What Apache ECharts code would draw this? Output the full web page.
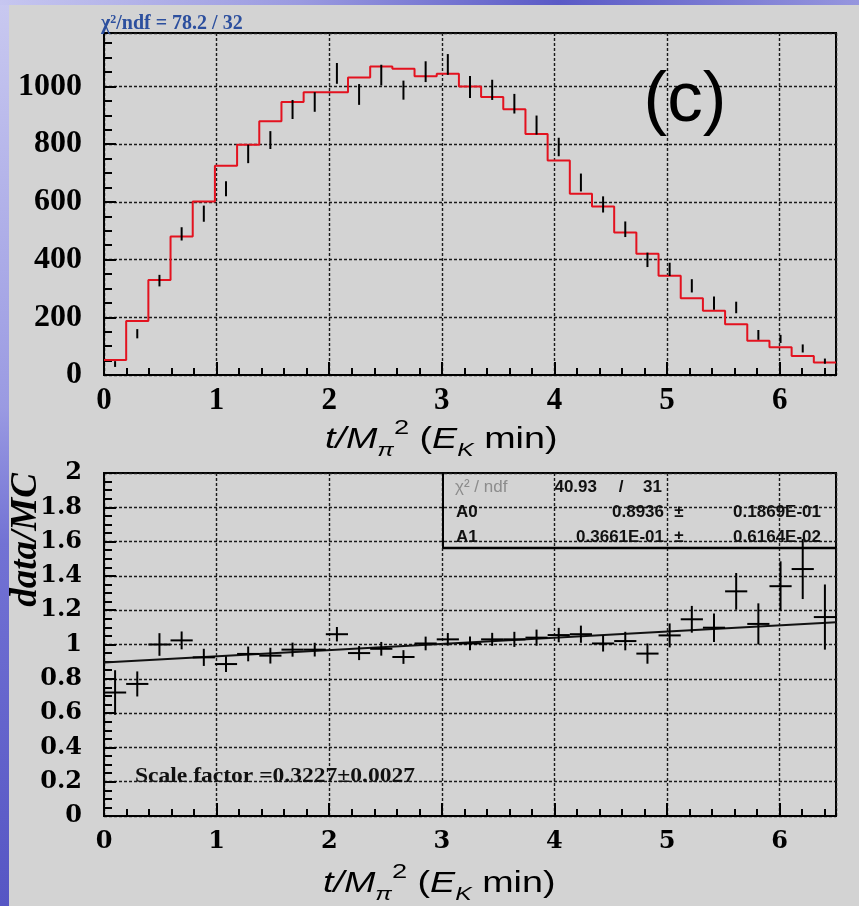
<!DOCTYPE html>
<html><head><meta charset="utf-8">
<script src="https://cdn.jsdelivr.net/npm/echarts@6/dist/echarts.min.js"></script>
<style>html,body{margin:0;padding:0;background:#d3d3d3}#c{width:859px;height:906px}</style>
</head><body><div id="c"></div><script>
// ---- data ----
const xRange = [0, 6.5];
const nBins = 33;
const mcHist = [52,187,329,480,601,725,798,879,946,980,980,1031,1069,1061,1035,1044,1000,963,921,835,743,628,584,494,420,344,266,223,176,119,96,66,43];
const dataVals = [38,143,327,489,559,645,766,814,920,946,1045,972,1039,987,1051,1076,998,988,940,866,790,667,591,505,399,366,309,249,234,139,125,92,48];
const dataErr = [10,16,20,23,28,26,32,31,33,34,36,36,36,33,36,36,38,35,34,33,32,31,28,27,25,23,23,23,20,17,14,14,9];
const ratioVals = [0.72,0.77,1.00,1.024,0.925,0.886,0.945,0.935,0.97,0.97,1.06,0.95,0.975,0.927,1.006,1.03,1.006,1.03,1.03,1.04,1.055,1.06,1.006,1.02,0.947,1.053,1.147,1.098,1.31,1.12,1.34,1.44,1.16];
const ratioErr = [0.13,0.073,0.066,0.052,0.05,0.046,0.043,0.046,0.041,0.04,0.042,0.041,0.04,0.04,0.04,0.037,0.04,0.038,0.044,0.047,0.042,0.05,0.047,0.054,0.059,0.07,0.078,0.083,0.107,0.12,0.145,0.175,0.19];
const fitLine = [[0, 0.895], [6.5, 1.130]];
const topYRange = [0, 1185];
const botYRange = [0, 2];
const chi2Label = ['χ² / ndf', '40.93', '/', '31'];
const paramRows = [
  ['A0', '0.8936', '±', '0.1869E-01'],
  ['A1', '0.3661E-01', '±', '0.6164E-02']
];

// ---- build ----
const binW = (xRange[1] - xRange[0]) / nBins;
const edges = Array.from({length: nBins}, (_, i) => xRange[0] + i * binW);
const centers = edges.map(e => e + binW / 2);
const histData = edges.map((e, i) => [e, mcHist[i]]).concat([[xRange[1], mcHist[nBins - 1]]]);

const chart = echarts.init(document.getElementById('c'));
const G = [{left: 104, top: 33, width: 732, height: 342}, {left: 104, top: 473, width: 732, height: 343}];

const axisLineS = {show: true, onZero: false, lineStyle: {color: '#000', width: 2}};
const gridLineS = {show: true, lineStyle: {color: '#1a1a1a', width: 1.4, type: [3, 2]}};
const fmt = v => String(+v.toFixed(4));
function majorX(gi, lab) {
  return {gridIndex: gi, type: 'value', position: 'bottom', min: xRange[0], max: xRange[1], interval: 1,
    axisLine: axisLineS, axisTick: {show: true, inside: true, length: 13, lineStyle: {color: '#000', width: 2}},
    axisLabel: Object.assign({showMaxLabel: false, color: '#000', fontWeight: 'bold', formatter: fmt}, lab),
    splitLine: gridLineS};
}
function minorX(gi) {
  return {gridIndex: gi, type: 'value', position: 'bottom', min: xRange[0], max: xRange[1], interval: 0.2,
    axisLine: {show: false, onZero: false}, axisTick: {show: true, inside: true, length: 7, lineStyle: {color: '#000', width: 2}},
    axisLabel: {show: false}, splitLine: {show: false}};
}
function majorY(gi, r, iv, showMax, lab) {
  return {gridIndex: gi, type: 'value', position: 'left', min: r[0], max: r[1], interval: iv,
    axisLine: axisLineS, axisTick: {show: true, inside: true, length: 12, lineStyle: {color: '#000', width: 2}},
    axisLabel: Object.assign({showMaxLabel: showMax, color: '#000', fontWeight: 'bold', formatter: fmt}, lab),
    splitLine: gridLineS};
}
function minorY(gi, r, iv) {
  return {gridIndex: gi, type: 'value', position: 'left', min: r[0], max: r[1], interval: iv,
    axisLine: {show: false, onZero: false}, axisTick: {show: true, inside: true, length: 8, lineStyle: {color: '#000', width: 2}},
    axisLabel: {show: false}, splitLine: {show: false}};
}
const topLab = {fontFamily: 'Liberation Serif', fontSize: 31, margin: 10};
const botLab = {fontFamily: 'DejaVu Serif', fontSize: 24, margin: 14};
const topYLab = {fontFamily: 'Liberation Serif', fontSize: 32, margin: 22};
const botYLab = {fontFamily: 'DejaVu Serif', fontSize: 24, margin: 22};

const F = '"Liberation Sans"';
const titleRich = {
  i: {fontFamily: F, fontStyle: 'italic', fontSize: 29, lineHeight: 30, fill: '#000'},
  n: {fontFamily: F, fontSize: 29, lineHeight: 30, fill: '#000'},
  sub: {fontFamily: F, fontStyle: 'italic', fontSize: 19, lineHeight: 19, padding: [22, 0, 0, 0], fill: '#000'},
  sup: {fontFamily: F, fontSize: 21, lineHeight: 18, padding: [0, 0, 23, 0], fill: '#000'}
};
const titleText = '{i|t/M}{sub|π}{sup|2}{n| (}{i|E}{sub|K}{n| min)}';
const BLUE = '#2c4f9e';

function statsGraphics() {
  const els = [];
  const x0 = 443, y0 = 473, x1 = 836, y1 = 548;
  els.push({type: 'line', shape: {x1: x0, y1: y0, x2: x0, y2: y1}, style: {stroke: '#000', lineWidth: 2}, z: 20});
  els.push({type: 'line', shape: {x1: x0, y1: y1, x2: x1, y2: y1}, style: {stroke: '#000', lineWidth: 2.5}, z: 20});
  const t = (text, x, y, align, fill, font) => ({type: 'text', z: 21,
    style: {text, x, y, textVerticalAlign: 'middle', textAlign: align, font: font || ('bold 17px ' + F), fill: fill || '#111'}});
  els.push(t(chi2Label[0], 455, 487, 'left', '#8c8c8c', '17px ' + F));
  els.push(t(chi2Label[1], 597, 487, 'right'));
  els.push(t(chi2Label[2], 621, 487, 'center'));
  els.push(t(chi2Label[3], 662, 487, 'right'));
  const ys = [512, 537];
  paramRows.forEach((r, i) => {
    els.push(t(r[0], 456, ys[i], 'left'));
    els.push(t(r[1], 664, ys[i], 'right'));
    els.push(t(r[2], 679, ys[i], 'center'));
    els.push(t(r[3], 821, ys[i], 'right'));
  });
  return els;
}

const option = {
  backgroundColor: '#d3d3d3',
  animation: false,
  grid: G.map(g => Object.assign({show: true, borderColor: '#000', borderWidth: 2, backgroundColor: 'transparent'}, g)),
  xAxis: [majorX(0, topLab), minorX(0), majorX(1, botLab), minorX(1)],
  yAxis: [majorY(0, topYRange, 200, false, topYLab), minorY(0, topYRange, 50), majorY(1, botYRange, 0.2, true, botYLab), minorY(1, botYRange, 0.05)],
  graphic: [
    {type: 'rect', shape: {x: 0, y: 0, width: 9, height: 906}, z: 0, style: {fill: new echarts.graphic.LinearGradient(0, 0, 0, 1, [
      {offset: 0, color: '#c9c9f0'}, {offset: 0.45, color: '#9a9ae2'}, {offset: 0.6, color: '#7272d4'}, {offset: 1, color: '#5656c4'}])}},
    {type: 'rect', shape: {x: 0, y: 0, width: 859, height: 5}, z: 0, style: {fill: new echarts.graphic.LinearGradient(0, 0, 1, 0, [
      {offset: 0, color: '#c6c6f0'}, {offset: 0.35, color: '#9a9ae0'}, {offset: 0.65, color: '#5a5ac6'}, {offset: 1, color: '#9696de'}])}},
    {type: 'text', z: 10, style: {text: '{a|χ}{s|2}{a|/ndf = 78.2 / 32}', x: 101, y: 24, textVerticalAlign: 'middle', fill: BLUE,
      rich: {a: {fontFamily: 'Liberation Serif', fontWeight: 'bold', fontSize: 20, lineHeight: 20, fill: BLUE},
             s: {fontFamily: 'Liberation Serif', fontWeight: 'bold', fontSize: 12, lineHeight: 12, padding: [0, 0, 9, 0], fill: BLUE}}}},
    {type: 'text', z: 10, style: {text: '(c)', x: 685, y: 101, textAlign: 'center', textVerticalAlign: 'middle',
      font: '71px ' + F, fill: '#000'}},
    {type: 'text', z: 10, x: 325, y: 440, scaleX: 1.3, style: {text: titleText, x: 0, y: 0, textVerticalAlign: 'middle', rich: titleRich}},
    {type: 'text', z: 10, x: 323, y: 884, scaleX: 1.3, style: {text: titleText, x: 0, y: 0, textVerticalAlign: 'middle', rich: titleRich}},
    {type: 'text', z: 10, rotation: Math.PI / 2, x: 26, y: 540, style: {text: 'data/MC', x: 0, y: 0, textAlign: 'center', textVerticalAlign: 'middle',
      font: 'italic bold 37px "Liberation Serif"', fill: '#000'}},
    {type: 'text', z: 10, x: 135, y: 776, scaleX: 1.07, style: {text: 'Scale factor =0.3227±0.0027', x: 0, y: 0, textVerticalAlign: 'middle',
      font: 'bold 22px "Liberation Serif"', fill: '#111'}}
  ].concat(statsGraphics()),
  series: [
    {type: 'line', xAxisIndex: 0, yAxisIndex: 0, step: 'end', data: histData, showSymbol: false, z: 3,
      lineStyle: {color: '#e3121f', width: 2}},
    {type: 'custom', xAxisIndex: 0, yAxisIndex: 0, z: 4,
      data: dataVals.map((v, i) => [centers[i], v, dataErr[i]]),
      renderItem: function (params, api) {
        const x = api.value(0), y = api.value(1), e = api.value(2);
        const a = api.coord([x, y - e]), b = api.coord([x, y + e]);
        return {type: 'line', shape: {x1: a[0], y1: a[1], x2: b[0], y2: b[1]}, style: {stroke: '#000', lineWidth: 2}};
      }},
    {type: 'line', xAxisIndex: 2, yAxisIndex: 2, data: fitLine, showSymbol: false, z: 3,
      lineStyle: {color: '#111', width: 2}},
    {type: 'custom', xAxisIndex: 2, yAxisIndex: 2, z: 4,
      data: ratioVals.map((v, i) => [centers[i], v, ratioErr[i]]),
      renderItem: function (params, api) {
        const x = api.value(0), y = api.value(1), e = api.value(2);
        const a = api.coord([x, y - e]), b = api.coord([x, y + e]);
        const l = api.coord([x - binW / 2, y]), r = api.coord([x + binW / 2, y]);
        return {type: 'group', children: [
          {type: 'line', shape: {x1: a[0], y1: a[1], x2: b[0], y2: b[1]}, style: {stroke: '#000', lineWidth: 2}},
          {type: 'line', shape: {x1: l[0], y1: l[1], x2: r[0], y2: r[1]}, style: {stroke: '#000', lineWidth: 2}}
        ]};
      }}
  ]
};
chart.setOption(option);
</script></body></html>
